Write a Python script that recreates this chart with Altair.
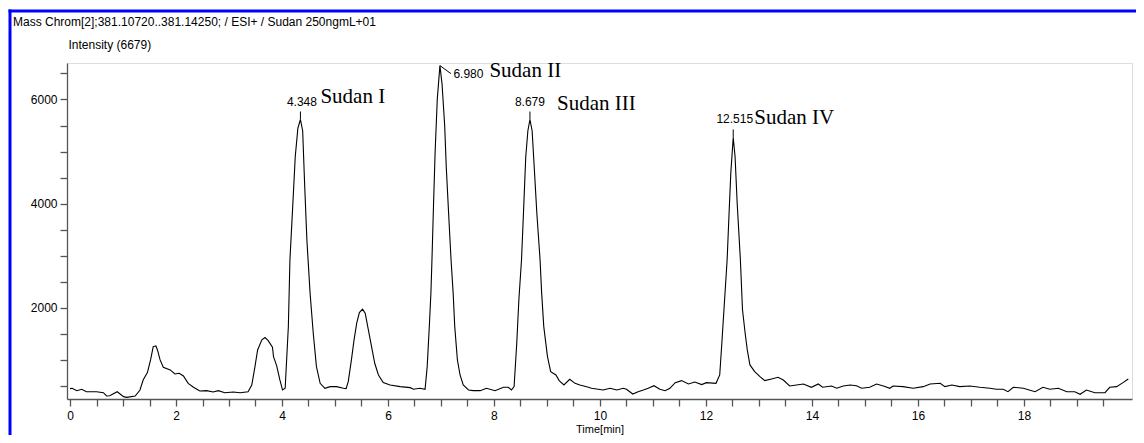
import altair as alt
import pandas as pd

time_min = [0.00, 0.04, 0.13, 0.22, 0.31, 0.50, 0.63, 0.69, 0.75, 0.89, 1.01, 1.07, 1.23, 1.32, 1.38,
            1.46, 1.52, 1.57, 1.62, 1.65, 1.70, 1.76, 1.89, 1.98, 2.06, 2.14, 2.23, 2.33, 2.45, 2.58,
            2.70, 2.80, 2.92, 3.08, 3.21, 3.36, 3.43, 3.49, 3.54, 3.62, 3.68, 3.74, 3.82, 3.84, 3.90,
            3.96, 4.01, 4.06, 4.12, 4.15, 4.20, 4.25, 4.30, 4.348, 4.39, 4.43, 4.47, 4.53, 4.59, 4.65,
            4.72, 4.81, 4.91, 5.03, 5.16, 5.21, 5.25, 5.31, 5.36, 5.41, 5.46, 5.52, 5.57, 5.63, 5.69,
            5.75, 5.82, 5.91, 6.04, 6.23, 6.42, 6.48, 6.60, 6.70, 6.74, 6.78, 6.81, 6.83, 6.86, 6.89,
            6.93, 6.98, 7.02, 7.07, 7.10, 7.15, 7.19, 7.23, 7.26, 7.31, 7.36, 7.42, 7.52, 7.61, 7.74,
            7.86, 8.02, 8.18, 8.27, 8.33, 8.38, 8.43, 8.47, 8.52, 8.56, 8.60, 8.64, 8.679, 8.72, 8.76,
            8.81, 8.87, 8.90, 8.94, 9.01, 9.07, 9.17, 9.23, 9.32, 9.43, 9.53, 9.62, 9.75, 9.84, 10.06,
            10.19, 10.32, 10.44, 10.50, 10.62, 10.72, 10.82, 10.91, 11.02, 11.13, 11.23, 11.32, 11.42,
            11.54, 11.67, 11.79, 11.92, 12.01, 12.19, 12.26, 12.30, 12.34, 12.38, 12.40, 12.44, 12.47,
            12.515, 12.55, 12.59, 12.65, 12.69, 12.74, 12.78, 12.83, 12.92, 13.02, 13.11, 13.24, 13.36,
            13.46, 13.58, 13.71, 13.84, 13.99, 14.12, 14.20, 14.37, 14.47, 14.59, 14.72, 14.84, 14.94,
            15.09, 15.22, 15.35, 15.47, 15.53, 15.72, 15.91, 16.10, 16.23, 16.42, 16.51, 16.64, 16.79,
            16.98, 17.17, 17.36, 17.48, 17.61, 17.70, 17.80, 17.99, 18.21, 18.36, 18.49, 18.65, 18.81,
            18.96, 19.06, 19.18, 19.34, 19.53, 19.62, 19.75, 19.87, 19.97]

intensity = [450, 456, 410, 436, 390, 390, 371, 308, 313, 390, 295, 282, 308, 423, 615,
             756, 1000, 1256, 1270, 1192, 1000, 859, 808, 731, 744, 692, 551, 475, 404, 410,
             385, 410, 371, 385, 371, 390, 519, 871, 1192, 1385, 1429, 1371, 1244, 1064, 885,
             615, 423, 456, 1640, 2923, 3900, 4900, 5450, 5615, 5400, 4300, 3300, 2282, 1513, 871,
             551, 456, 487, 487, 456, 450, 583, 1000, 1385, 1705, 1910, 1975, 1897, 1577, 1256,
             936, 711, 564, 519, 487, 468, 437, 456, 437, 871, 1640, 2282, 2923, 4000, 5000,
             6000, 6650, 6300, 5500, 4700, 3700, 2923, 2282, 1640, 1000, 711, 519, 423, 410, 410,
             456, 410, 475, 475, 423, 487, 1321, 2154, 2923, 3900, 4900, 5400, 5615, 5400, 4700,
             3800, 2923, 2282, 1640, 1064, 776, 711, 603, 519, 628, 551, 519, 487, 456, 423,
             456, 423, 456, 437, 346, 390, 423, 456, 506, 437, 410, 456, 564,
             603, 538, 577, 526, 564, 551, 711, 1321, 1962, 2602, 2923, 3900, 4600,
             5270, 4900, 4000, 2923, 1962, 1513, 1192, 904, 776, 679, 603, 635, 667,
             615, 500, 519, 538, 475, 538, 475, 500, 456, 500, 519, 506, 456,
             475, 538, 500, 456, 500, 487, 456, 487, 538, 551, 487, 519, 487,
             500, 475, 456, 437, 437, 390, 475, 456, 390, 475, 437, 456, 390,
             390, 340, 423, 371, 371, 475, 487, 564, 635]

peak_rt = [4.348, 6.980, 8.679, 12.515]
peak_height = [5615, 6650, 5615, 5270]
peak_rt_label = ["4.348", "6.980", "8.679", "12.515"]
peak_name = ["Sudan I", "Sudan II", "Sudan III", "Sudan IV"]

x_tick_values = [v / 2 for v in range(0, 40)]
y_tick_values = [500, 1000, 1500, 2000, 2500, 3000, 3500, 4000, 4500, 5000, 5500, 6000, 6500]

header_text = "Mass Chrom[2];381.10720..381.14250; / ESI+ / Sudan 250ngmL+01"
y_title = "Intensity (6679)"
x_title = "Time[min]"

trace = pd.DataFrame({"t": time_min, "I": intensity})
peaks = pd.DataFrame({"t": peak_rt, "I": peak_height, "rt": peak_rt_label, "name": peak_name})

SANS = "Liberation Sans"
SERIF = "Liberation Serif"
PLOT_W, PLOT_H = 1065, 336

x_enc = alt.X(
    "t:Q",
    scale=alt.Scale(domain=[-0.057, 20.04], nice=False, zero=False),
    axis=alt.Axis(
        values=x_tick_values,
        labelExpr="datum.value % 2 == 0 ? format(datum.value, 'd') : ''",
        labelOverlap=False, labelFlush=False,
        tickSize=7, labelPadding=4,
        title=x_title, titleX=PLOT_W / 2, titleY=33, titleBaseline="alphabetic",
        titleFontSize=11, titleFont=SANS, titleFontWeight="normal", titleColor="black",
        labelFont=SANS, labelFontSize=12, labelColor="black",
        domainColor="#555555", tickColor="#555555", domainWidth=1.3, tickWidth=1.3,
        grid=False,
    ),
)
y_enc = alt.Y(
    "I:Q",
    scale=alt.Scale(domain=[250, 6700], nice=False, zero=False),
    axis=alt.Axis(
        values=y_tick_values,
        labelExpr="datum.value % 2000 == 0 ? format(datum.value, 'd') : ''",
        labelOverlap=False, labelFlush=False,
        tickSize=7, labelPadding=3,
        title=y_title, titleAngle=0, titleAlign="left", titleBaseline="alphabetic",
        titleX=1, titleY=-14.5,
        titleFontSize=12, titleFont=SANS, titleFontWeight="normal", titleColor="black",
        labelFont=SANS, labelFontSize=12, labelColor="black",
        domainColor="#555555", tickColor="#555555", domainWidth=1.3, tickWidth=1.3,
        grid=False,
    ),
)

one_row = alt.Data(values=[{}])

# blue window frame (left and top edges)
frame_left = alt.Chart(one_row).mark_rule(color="#0000ff", strokeWidth=3).encode(
    x=alt.value(-57), y=alt.value(-53.5), y2=alt.value(372)
)
frame_top = alt.Chart(one_row).mark_rule(color="#0000ff", strokeWidth=3).encode(
    x=alt.value(-58.5), x2=alt.value(1069), y=alt.value(-52)
)

header = alt.Chart(one_row).mark_text(
    align="left", baseline="alphabetic", font=SANS, fontSize=12, color="black", text=header_text
).encode(x=alt.value(-54), y=alt.value(-37.5))

line = alt.Chart(trace).mark_line(color="black", strokeWidth=1.1).encode(x=x_enc, y=y_enc)

annot_style = {
    "Sudan I":   dict(rt_dx=1.5, rt_dy=-14, rt_align="center", nm_dx=20, nm_dy=-17, slant=False),
    "Sudan II":  dict(rt_dx=13.5, rt_dy=12.5, rt_align="left", nm_dx=49.5, nm_dy=11.5, slant=True),
    "Sudan III": dict(rt_dx=0, rt_dy=-14, rt_align="center", nm_dx=27, nm_dy=-10, slant=False),
    "Sudan IV":  dict(rt_dx=1.5, rt_dy=-14, rt_align="center", nm_dx=21, nm_dy=-13, slant=False),
}

layers = [frame_left, frame_top, header, line]
base_peaks = alt.Chart(peaks)
for nm, st in annot_style.items():
    sel = base_peaks.transform_filter(alt.datum.name == nm)
    if st["slant"]:
        tick = sel.mark_rule(color="black", strokeWidth=1, x2Offset=11, y2Offset=8)
    else:
        tick = sel.mark_rule(color="black", strokeWidth=1, y2Offset=-8)
    tick = tick.encode(x=x_enc, y=y_enc, x2="t:Q", y2="I:Q")
    rt_txt = sel.mark_text(
        align=st["rt_align"], baseline="alphabetic", dx=st["rt_dx"], dy=st["rt_dy"],
        font=SANS, fontSize=12, color="black"
    ).encode(x=x_enc, y=y_enc, text="rt:N")
    nm_txt = sel.mark_text(
        align="left", baseline="alphabetic", dx=st["nm_dx"], dy=st["nm_dy"],
        font=SERIF, fontSize=21, color="black"
    ).encode(x=x_enc, y=y_enc, text="name:N")
    layers += [tick, rt_txt, nm_txt]

chart = alt.layer(*layers).properties(
    width=PLOT_W,
    height=PLOT_H,
    autosize=alt.AutoSizeParams(type="none"),
    padding={"left": 59, "top": 55, "right": 4, "bottom": 36},
).configure_view(stroke=None).configure(background="white")

chart.save("out.html", embed_options={"renderer": "svg", "actions": False})
